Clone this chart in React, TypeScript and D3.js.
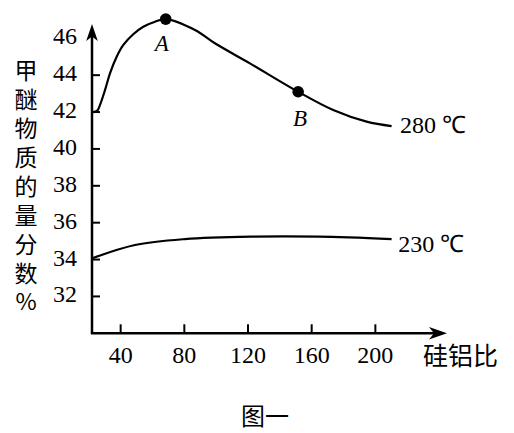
import React from "react";
import * as d3 from "d3";

const xTicks = [40, 80, 120, 160, 200];
const yTicks = [32, 34, 36, 38, 40, 42, 44, 46];
const yTickMarks = [32, 34, 36, 38, 40, 42, 44];

const ratio280 = [22.5, 25.3, 27.0, 30.2, 33.3, 37.5, 41.7, 47.9, 54.2, 61.6, 68.3, 86.7, 99.2, 121.2, 151.5, 173.5, 194.5, 210.2];
const value280 = [42.0, 42.08, 42.38, 43.2, 44.1, 45.0, 45.64, 46.22, 46.63, 46.9, 47.04, 46.45, 45.73, 44.64, 43.1, 42.11, 41.48, 41.24];

const ratio230 = [22.2, 49, 80.4, 122.3, 164.1, 210.2];
const value230 = [34.07, 34.79, 35.11, 35.24, 35.24, 35.11];

const pointLabels = ["A", "B"];
const pointRatio = [68.3, 151.5];
const pointValue = [47.04, 43.1];

const seriesLabels = ["280 ℃", "230 ℃"];
const yTitle = "甲醚物质的量分数%";
const xTitle = "硅铝比";
const caption = "图一";

const serif = "'Liberation Serif', 'Times New Roman', serif";
const cjk = "'Noto Sans CJK SC', sans-serif";

export default function App() {
  const x = d3.scaleLinear().domain([22, 245]).range([92, 447]);
  const y = d3.scaleLinear().domain([30, 46]).range([333.3, 38.3]);
  const line = d3
    .line<[number, number]>()
    .x((d) => x(d[0]))
    .y((d) => y(d[1]))
    .curve(d3.curveCatmullRom.alpha(0.5));
  const d280 = line(ratio280.map((r, i) => [r, value280[i]]) as [number, number][]) || "";
  const d230 = line(ratio230.map((r, i) => [r, value230[i]]) as [number, number][]) || "";

  const x0 = x(22);
  const y0 = y(30);
  const yTop = 24;
  const xEnd = x(245);

  return (
    <div style={{ position: "absolute", left: 0, top: 0 }}>
      <svg width={514} height={433} style={{ display: "block", background: "#fff" }}>
        {/* axes */}
        <line x1={x0} y1={y0} x2={x0} y2={yTop + 12} stroke="#000" strokeWidth={2.5} />
        <line x1={x0 - 1.2} y1={y0} x2={xEnd - 12} y2={y0} stroke="#000" strokeWidth={2.5} />
        <path
          d={`M${x0},${yTop} L${x0 + 5.8},${yTop + 17} L${x0},${yTop + 12.5} L${x0 - 5.8},${yTop + 17} Z`}
          fill="#000"
        />
        <path
          d={`M${xEnd},${y0} L${xEnd - 18},${y0 - 6.3} L${xEnd - 13},${y0} L${xEnd - 18},${y0 + 6.3} Z`}
          fill="#000"
        />
        {yTickMarks.map((t) => (
          <line key={"yt" + t} x1={x0} x2={x0 + 8} y1={y(t)} y2={y(t)} stroke="#000" strokeWidth={2} />
        ))}
        {xTicks.map((t) => (
          <line key={"xt" + t} x1={x(t)} x2={x(t)} y1={y0} y2={y0 - 9} stroke="#000" strokeWidth={2} />
        ))}
        {yTicks.map((t) => (
          <text key={"yl" + t} x={77} y={y(t) + 6} textAnchor="end" fontFamily={serif} fontSize={24}>
            {t}
          </text>
        ))}
        {xTicks.map((t) => (
          <text key={"xl" + t} x={x(t)} y={362.5} textAnchor="middle" fontFamily={serif} fontSize={24}>
            {t}
          </text>
        ))}
        {/* curves */}
        <path d={d280} fill="none" stroke="#000" strokeWidth={2.2} />
        <path d={d230} fill="none" stroke="#000" strokeWidth={2.2} />
        {pointLabels.map((p, i) => (
          <g key={p}>
            <circle cx={x(pointRatio[i])} cy={y(pointValue[i])} r={5.8} fill="#000" />
            <text
              x={x(pointRatio[i]) + (i === 0 ? -4 : 2)}
              y={i === 0 ? 50.7 : 126}
              textAnchor="middle"
              fontFamily={serif}
              fontStyle="italic"
              fontSize={23}
            >
              {p}
            </text>
          </g>
        ))}
        <text x={400} y={133.3} fontFamily={serif} fontSize={24}>
          {seriesLabels[0]}
        </text>
        <text x={398.3} y={251.7} fontFamily={serif} fontSize={24}>
          {seriesLabels[1]}
        </text>
        {/* titles */}
        <text
          x={26}
          y={59}
          fontFamily={cjk}
          fontSize={23}
          letterSpacing={5.9}
          style={{ writingMode: "vertical-rl", textOrientation: "upright" } as React.CSSProperties}
        >
          {yTitle}
        </text>
        <text x={423} y={365} fontFamily={cjk} fontSize={25}>
          {xTitle}
        </text>
        <text x={265} y={425} textAnchor="middle" fontFamily={cjk} fontSize={24}>
          {caption}
        </text>
      </svg>
    </div>
  );
}
